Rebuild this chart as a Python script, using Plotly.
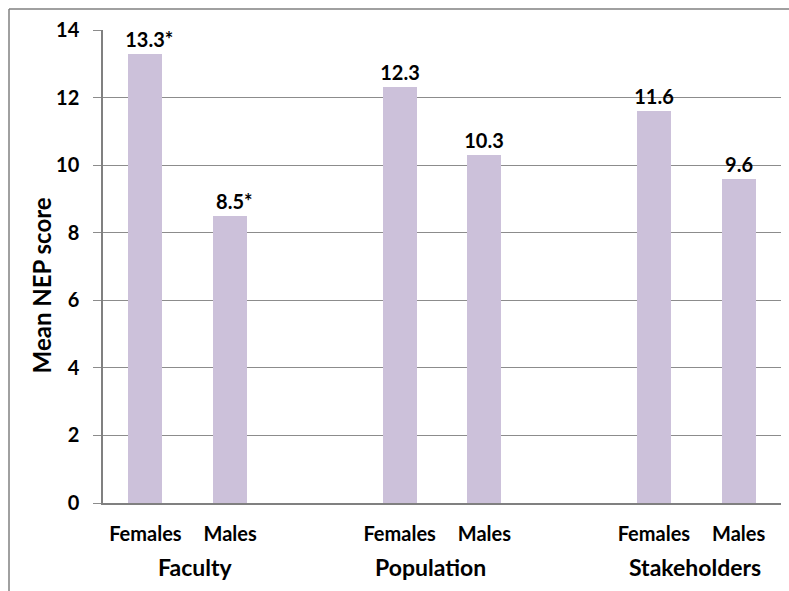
import plotly.graph_objects as go

# Data
slots = [0, 1, 3, 4, 6, 7]
sex_labels = ["Females", "Males", "Females", "Males", "Females", "Males"]
nep_scores = [13.3, 8.5, 12.3, 10.3, 11.6, 9.6]
significant = [True, True, False, False, False, False]
groups = ["Faculty", "Population", "Stakeholders"]
group_pos = [0.59, 3.36, 6.48]
y_ticks = [0, 2, 4, 6, 8, 10, 12, 14]

FONT = "Lato"
BAR = "#CCC1DA"
GRID = "#8C8C8C"

labels = []
for v, s in zip(nep_scores, significant):
    if s:
        labels.append("<span style='fill:rgba(0,0,0,0)'>*</span>%.1f*" % v)
    else:
        labels.append("%.1f" % v)

fig = go.Figure()
fig.add_trace(go.Bar(
    x=slots, y=nep_scores, width=0.4,
    marker=dict(color=BAR, line=dict(width=0)),
    text=labels, textposition="outside", cliponaxis=False,
    constraintext="none",
    textfont=dict(family=FONT, size=20, color="#000000", weight="bold"),
    hoverinfo="skip",
))

for g, p in zip(groups, group_pos):
    fig.add_annotation(x=p, y=0, xref="x", yref="y", text="<b>%s</b>" % g,
                       showarrow=False, yshift=-64, yanchor="middle",
                       font=dict(family=FONT, size=23, color="#000000"))

fig.add_annotation(x=(41 - 103) / 678, y=0.46, xref="paper", yref="paper",
                   xanchor="center", yanchor="middle",
                   text="<b>Mean NEP score</b>", textangle=-90, showarrow=False,
                   font=dict(family=FONT, size=24, color="#000000"))

L, R, T, B = 103, 8, 30, 88
W, H = 789, 591
pw, ph = W - L - R, H - T - B
def px(x):
    return (x - L) / pw
def py(y):
    return (H - B - y) / ph

fig.add_shape(type="line", xref="paper", yref="paper",
              x0=px(9), x1=px(800), y0=py(9), y1=py(9),
              line=dict(color="#808080", width=1.5))
fig.add_shape(type="line", xref="paper", yref="paper",
              x0=px(9), x1=px(9), y0=py(9), y1=py(600),
              line=dict(color="#808080", width=1.5))

fig.update_layout(
    width=W, height=H,
    margin=dict(l=L, r=R, t=T, b=B),
    paper_bgcolor="white", plot_bgcolor="white",
    showlegend=False,
    bargap=0,
    xaxis=dict(range=[-0.5, 7.5], tickmode="array", tickvals=slots,
               ticktext=sex_labels, ticks="", showgrid=False,
               showline=True, linecolor="#808080", linewidth=2,
               ticklabelstandoff=12,
               tickfont=dict(family=FONT, size=20, color="#000000", weight="bold"),
               zeroline=False, fixedrange=True),
    yaxis=dict(range=[0, 14], tickmode="array", tickvals=y_ticks,
               showgrid=True, gridcolor=GRID, gridwidth=1,
               ticks="outside", ticklen=8, tickcolor=GRID,
               showline=True, linecolor="#808080", linewidth=1.5,
               ticklabelstandoff=10,
               tickfont=dict(family=FONT, size=20, color="#000000", weight="bold"),
               zeroline=False, fixedrange=True),
)

fig.write_html("out.html")
